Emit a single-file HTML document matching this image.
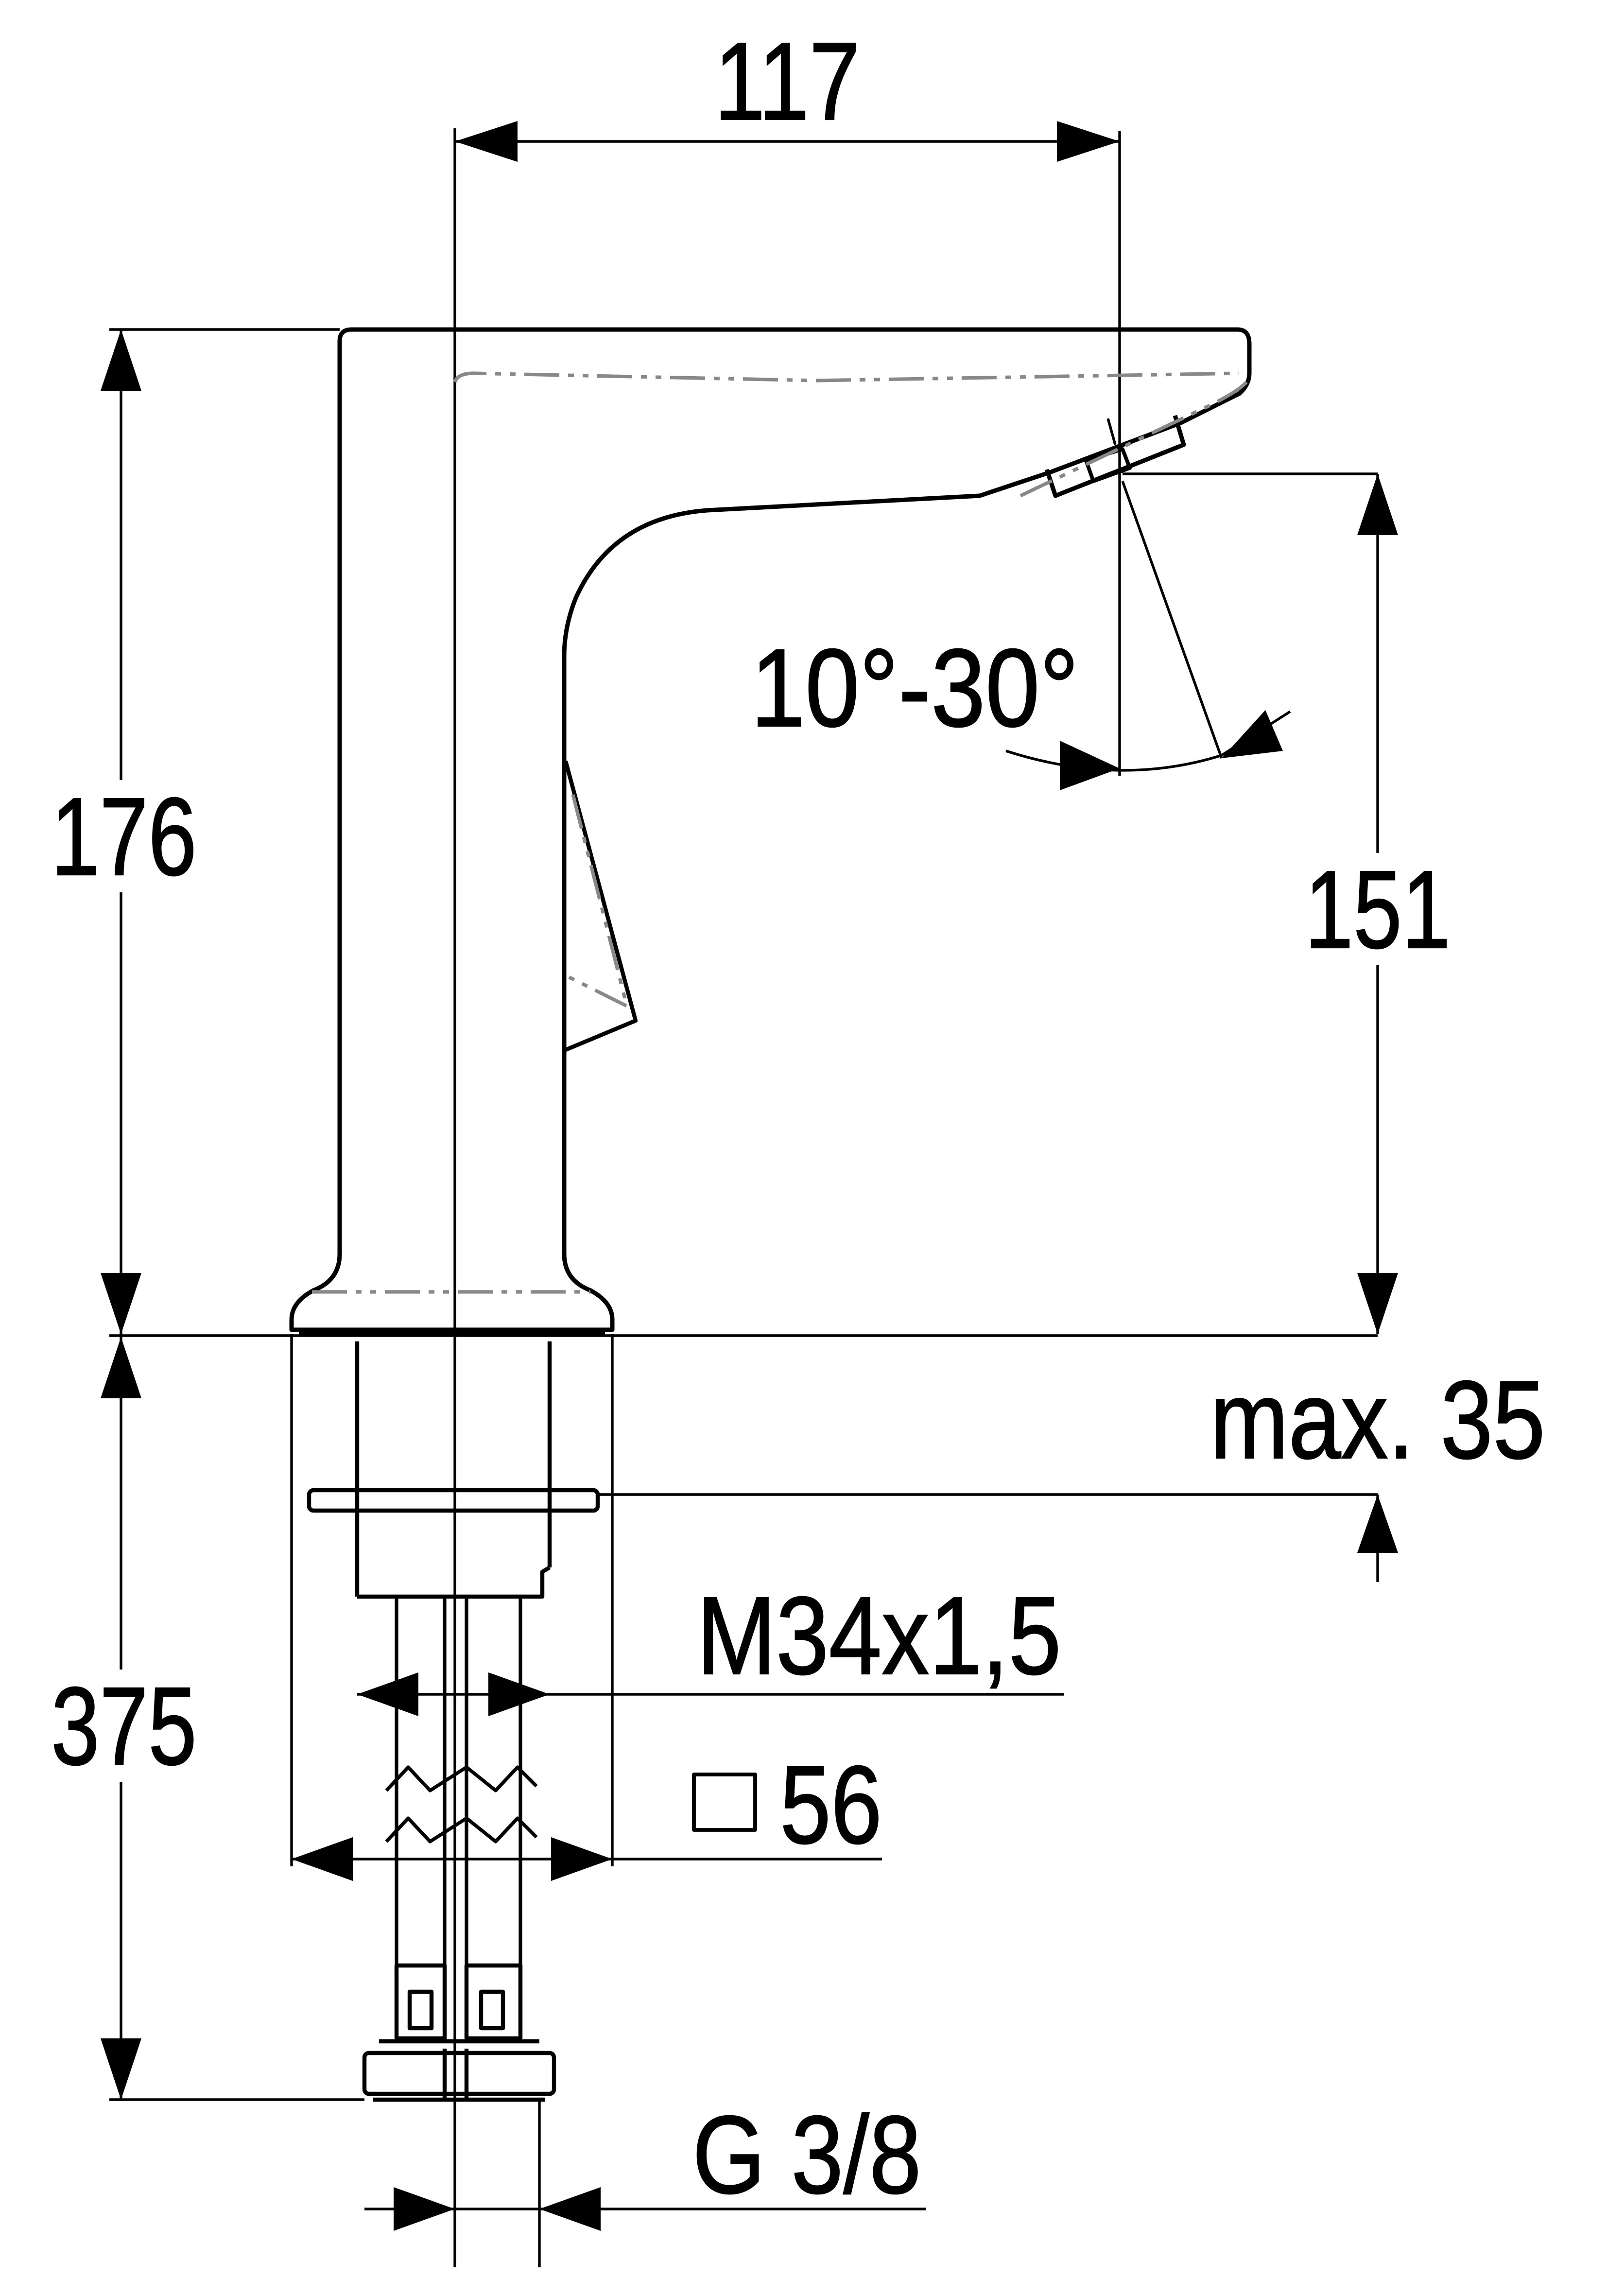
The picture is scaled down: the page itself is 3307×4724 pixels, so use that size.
<!DOCTYPE html>
<html><head><meta charset="utf-8"><style>html,body{margin:0;padding:0;background:#fff}svg{display:block}text{font-family:"Liberation Sans Narrow","Liberation Sans",sans-serif;fill:#000}</style></head>
<body>
<svg width="3307" height="4724" viewBox="0 0 1102.33 1574.67" xmlns="http://www.w3.org/2000/svg">
<g fill="none" stroke="#000" stroke-linejoin="round">
<line x1="312" y1="88" x2="312" y2="1555" stroke-width="1.8"/>
<line x1="768" y1="90" x2="768" y2="532" stroke-width="1.8"/>
<line x1="312" y1="97" x2="768" y2="97" stroke-width="1.8"/>
<path d="M233,860 L233,234 Q233,226 241,226 L849,226 Q857,226 857,236 L857,256 Q857,264 850,270 L810,290 L720,324 L672,340 L485,350 Q420,355 395,410 Q387,430 387,450 L387,860 Q387,878 405,885 Q420,893 420,905 L420,912 L200,912 L200,905 Q200,893 215,885 Q233,878 233,860 Z" stroke-width="3"/>
<path d="M718,322 L724,340 L812,305 L806,285" stroke-width="3"/>
<path d="M745,316 L750,330 L775,321 L770,308 Z" stroke-width="2.6"/>
<path d="M388,522 L436,700 L388,720" stroke-width="2.8"/>
<g stroke="#888" stroke-width="2.4" stroke-dasharray="24,6,4,6,4,6">
<path d="M312,262 Q314,256 325,256 L560,261 L850,256"/>
<path d="M855,262 Q850,268 830,278 L700,340"/>
<path d="M393,545 L430,690 L390,670"/>
<path d="M214,886 L405,886"/>
</g>
<line x1="205" y1="915" x2="415" y2="915" stroke-width="3.5"/>
<line x1="75" y1="916" x2="945" y2="916" stroke-width="1.8"/>
<line x1="75" y1="226" x2="233" y2="226" stroke-width="1.8"/>
<line x1="770" y1="325" x2="945" y2="325" stroke-width="1.8"/>
<line x1="75" y1="1440" x2="250" y2="1440" stroke-width="1.8"/>
<line x1="83" y1="226" x2="83" y2="535" stroke-width="1.8"/>
<line x1="83" y1="612" x2="83" y2="915" stroke-width="1.8"/>
<line x1="83" y1="915" x2="83" y2="1145" stroke-width="1.8"/>
<line x1="83" y1="1222" x2="83" y2="1440" stroke-width="1.8"/>
<line x1="945" y1="325" x2="945" y2="585" stroke-width="1.8"/>
<line x1="945" y1="662" x2="945" y2="915" stroke-width="1.8"/>
<line x1="770" y1="330" x2="838" y2="520" stroke-width="1.8"/>
<line x1="760" y1="287" x2="765" y2="305" stroke-width="1.8"/>
<path d="M690,515 Q768,540 838,518 L885,488" stroke-width="1.8"/>
<line x1="245" y1="920" x2="245" y2="1095" stroke-width="2.8"/>
<line x1="377" y1="920" x2="377" y2="1075" stroke-width="2.8"/>
<path d="M377,1075 L372,1078 L372,1095 L245,1095" stroke-width="2.8"/>
<rect x="212" y="1022" width="198" height="14" rx="3" stroke-width="2.8"/>
<line x1="200" y1="915" x2="200" y2="1280" stroke-width="1.8"/>
<line x1="420" y1="915" x2="420" y2="1280" stroke-width="1.8"/>
<line x1="410" y1="1025" x2="945" y2="1025" stroke-width="1.8"/>
<line x1="945" y1="1025" x2="945" y2="1085" stroke-width="1.8"/>
<g stroke-width="2.4">
<line x1="272" y1="1095" x2="272" y2="1348"/>
<line x1="305" y1="1095" x2="305" y2="1348"/>
<line x1="320" y1="1095" x2="320" y2="1348"/>
<line x1="357" y1="1095" x2="357" y2="1348"/>
<path d="M265,1228 L280,1212 L295,1228 L320,1212 L340,1228 L355,1212 L368,1225"/>
<path d="M265,1263 L280,1247 L295,1263 L320,1247 L340,1263 L355,1247 L368,1260"/>
</g>
<g stroke-width="2.8">
<rect x="272" y="1348" width="33" height="50"/>
<rect x="320" y="1348" width="37" height="50"/>
<rect x="281" y="1366" width="15" height="25"/>
<rect x="330" y="1366" width="15" height="25"/>
<rect x="250" y="1408" width="130" height="28" rx="3"/>
<line x1="260" y1="1400" x2="370" y2="1400"/>
<line x1="256" y1="1440" x2="374" y2="1440"/>
<line x1="305" y1="1405" x2="305" y2="1440"/>
<line x1="320" y1="1405" x2="320" y2="1440"/>
</g>
<line x1="370" y1="1440" x2="370" y2="1555" stroke-width="1.8"/>
<line x1="245" y1="1162" x2="730" y2="1162" stroke-width="1.8"/>
<line x1="200" y1="1275" x2="605" y2="1275" stroke-width="1.8"/>
<rect x="476" y="1217" width="42" height="38" stroke-width="2.6"/>
<line x1="250" y1="1515" x2="635" y2="1515" stroke-width="1.8"/>
</g>
<g fill="#000">
<path d="M312,97 L355,83 L355,111 Z"/><path d="M768,97 L725,83 L725,111 Z"/>
<path d="M83,226 L69,268 L97,268 Z"/><path d="M83,915 L69,873 L97,873 Z"/>
<path d="M83,917 L69,959 L97,959 Z"/><path d="M83,1440 L69,1398 L97,1398 Z"/>
<path d="M945,325 L931,367 L959,367 Z"/><path d="M945,915 L931,873 L959,873 Z"/>
<path d="M945,1025 L931,1065 L959,1065 Z"/>
<path d="M768,527 L727,508 L727,542 Z"/>
<path d="M838,520 L868,487 L880,515 Z"/>
<path d="M245,1162 L287,1147 L287,1177 Z"/><path d="M377,1162 L335,1147 L335,1177 Z"/>
<path d="M200,1275 L242,1260 L242,1290 Z"/><path d="M420,1275 L378,1260 L378,1290 Z"/>
<path d="M312,1515 L270,1500 L270,1530 Z"/><path d="M370,1515 L412,1500 L412,1530 Z"/>
</g>
<g font-size="76" stroke="#000" stroke-width="0.8">
<text x="490" y="82" textLength="100" lengthAdjust="spacingAndGlyphs">117</text>
<text x="35" y="600" textLength="100" lengthAdjust="spacingAndGlyphs">176</text>
<text x="895" y="650" textLength="100" lengthAdjust="spacingAndGlyphs">151</text>
<text x="35" y="1210" textLength="100" lengthAdjust="spacingAndGlyphs">375</text>
<text x="830" y="1000" textLength="230" lengthAdjust="spacingAndGlyphs">max. 35</text>
<text x="478" y="1148" textLength="250" lengthAdjust="spacingAndGlyphs">M34x1,5</text>
<text x="535" y="1264" textLength="70" lengthAdjust="spacingAndGlyphs">56</text>
<text x="475" y="1504" textLength="157" lengthAdjust="spacingAndGlyphs">G 3/8</text>
<text x="515" y="498" textLength="225" lengthAdjust="spacingAndGlyphs">10°-30°</text>
</g>
</svg>
</body></html>
